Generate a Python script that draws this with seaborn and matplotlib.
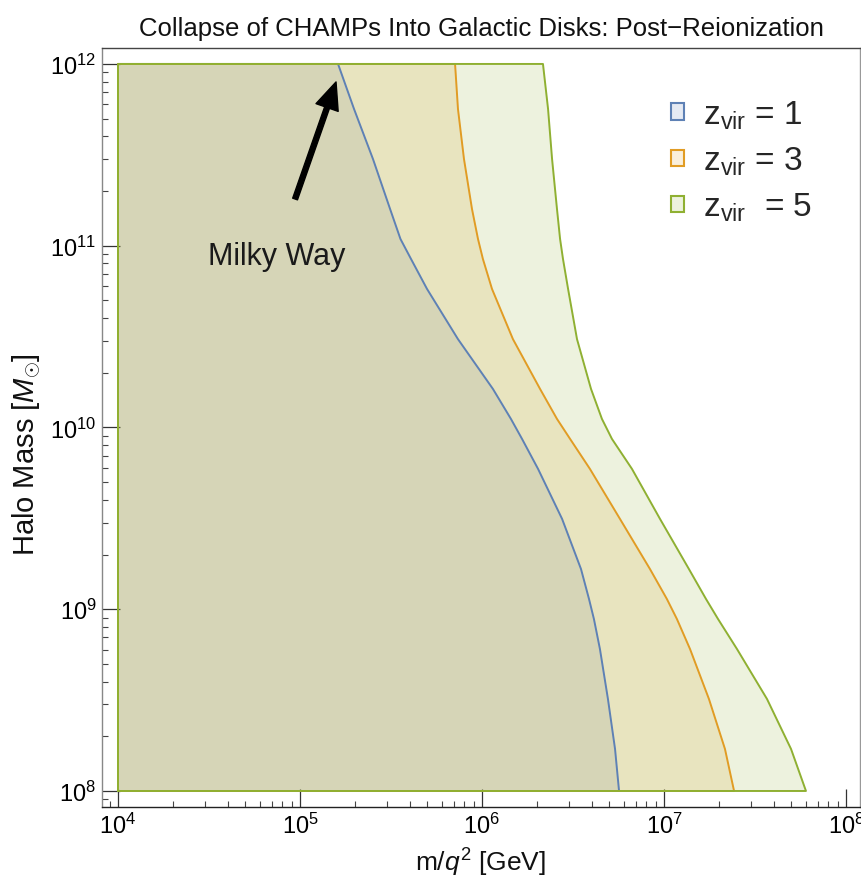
import numpy as np
import pandas as pd
import seaborn as sns
import matplotlib
matplotlib.use("Agg")
import matplotlib.pyplot as plt
from matplotlib import ticker
from matplotlib.patches import Patch
from matplotlib.colors import to_rgba

# ---------------- data ----------------
# log10 of halo mass [M_sun], shared grid for the three boundary curves (top -> bottom)
log_halo_mass = [12.000, 11.752, 11.477, 11.202, 11.037, 10.927, 10.762, 10.486,
                 10.212, 10.047, 9.937, 9.772, 9.497, 9.221, 9.056, 8.946,
                 8.781, 8.506, 8.231, 8.000]
# log10 of m/q^2 [GeV] on the boundary for each virialisation redshift
log_mq2_z1 = [5.209, 5.297, 5.401, 5.495, 5.552, 5.610, 5.698, 5.868,
              6.060, 6.159, 6.220, 6.308, 6.440, 6.544, 6.588, 6.615,
              6.648, 6.692, 6.731, 6.753]
log_mq2_z3 = [5.852, 5.868, 5.901, 5.945, 5.978, 6.005, 6.055, 6.170,
              6.319, 6.412, 6.484, 6.593, 6.758, 6.923, 7.016, 7.071,
              7.143, 7.247, 7.335, 7.385]
log_mq2_z5 = [6.335, 6.363, 6.385, 6.412, 6.429, 6.445, 6.473, 6.522,
              6.599, 6.659, 6.714, 6.824, 6.978, 7.137, 7.231, 7.297,
              7.401, 7.566, 7.698, 7.780]
mq2_min = 1e4  # left edge of the regions [GeV]
redshifts = [1, 3, 5]
legend_labels = [r"z$_{\mathrm{vir}}$ = 1", r"z$_{\mathrm{vir}}$ = 3", r"z$_{\mathrm{vir}}$  = 5"]
x_tick_exponents = [4, 5, 6, 7, 8]
y_tick_exponents = [8, 9, 10, 11, 12]

# ---------------- style ----------------
sns.set_theme(style="ticks")
plt.rcParams["font.family"] = ["Liberation Sans", "DejaVu Sans"]
plt.rcParams["mathtext.fontset"] = "custom"
plt.rcParams["mathtext.rm"] = "Liberation Sans"
plt.rcParams["mathtext.it"] = "Liberation Sans:italic"
plt.rcParams["mathtext.sf"] = "Liberation Sans"
plt.rcParams["mathtext.bf"] = "Liberation Sans:bold"

colors = ["#5E81B5", "#E19C24", "#8FB032"]
fill_alpha = 0.16

fig = plt.figure(figsize=(8.62, 8.79), dpi=100)
ax = fig.add_axes([0.1183, 0.0808, 0.8794, 0.8635])

halo_mass = 10.0 ** np.array(log_halo_mass)
curves = [log_mq2_z1, log_mq2_z3, log_mq2_z5]

for z, logx, c in zip(redshifts, curves, colors):
    mq2 = 10.0 ** np.array(logx)
    ax.fill_betweenx(halo_mass, mq2_min, mq2, color=c, alpha=fill_alpha, lw=0)
    # closed boundary of the region
    bx = [mq2_min, mq2_min] + list(mq2) + [mq2_min]
    by = [halo_mass[-1], halo_mass[0]] + list(halo_mass) + [halo_mass[-1]]
    df = pd.DataFrame({"x": bx, "y": by})
    sns.lineplot(data=df, x="x", y="y", sort=False, estimator=None,
                 color=c, lw=1.4, ax=ax, solid_joinstyle="round")

ax.set_xscale("log")
ax.set_yscale("log")
ax.set_xlim(10 ** 3.912, 10 ** 8.077)
ax.set_ylim(10 ** 7.912, 10 ** 12.088)

ax.set_xticks([10.0 ** e for e in x_tick_exponents])
ax.set_yticks([10.0 ** e for e in y_tick_exponents])
ax.xaxis.set_major_formatter(ticker.LogFormatterSciNotation())
ax.yaxis.set_major_formatter(ticker.LogFormatterSciNotation())
ax.xaxis.set_minor_locator(ticker.LogLocator(base=10, subs=np.arange(2, 10), numticks=20))
ax.yaxis.set_minor_locator(ticker.LogLocator(base=10, subs=np.arange(2, 10), numticks=20))
ax.xaxis.set_minor_formatter(ticker.NullFormatter())
ax.yaxis.set_minor_formatter(ticker.NullFormatter())

ax.tick_params(which="major", direction="in", length=13, width=0.9,
               labelsize=17, pad=4, color="#333333", labelcolor="black")
ax.tick_params(which="minor", direction="in", length=4.3, width=0.8, color="#444444")

for side, col in [("left", "#888888"), ("bottom", "#222222"), ("top", "#444444"), ("right", "#999999")]:
    ax.spines[side].set_visible(True)
    ax.spines[side].set_color(col)
    ax.spines[side].set_linewidth(1.0)

ax.set_xlabel(r"m/$q^{2}$ [GeV]", fontsize=19, labelpad=6, color="#111111")
ax.set_ylabel(r"Halo Mass [$M_{\odot}$]", fontsize=21, labelpad=8, color="#111111")
ax.yaxis.set_label_coords(-0.078, 0.465)
ax.set_title("Collapse of CHAMPs Into Galactic Disks: Post\u2212Reionization",
             fontsize=18.5, pad=9, color="#111111")

# Milky Way annotation
ax.annotate("", xy=(10 ** 5.198, 10 ** 11.901), xytext=(10 ** 4.973, 10 ** 11.257),
            arrowprops=dict(arrowstyle="simple,head_length=1.5,head_width=1.3,tail_width=0.28",
                            mutation_scale=13, color="black", shrinkA=0, shrinkB=0))
ax.text(10 ** 4.874, 10 ** 10.9, "Milky Way", fontsize=22, ha="center", va="baseline",
        color="#1a1a1a")

handles = [Patch(facecolor=to_rgba(c, 0.16), edgecolor=c, lw=1.5) for c in colors]
ax.legend(handles, legend_labels, loc="upper left", bbox_to_anchor=(0.7507, 0.933),
          frameon=False, fontsize=24, handlelength=0.4, handleheight=0.4,
          handletextpad=0.55, labelspacing=0.41, borderpad=0, borderaxespad=0)

fig.savefig("out.png", dpi=100)
